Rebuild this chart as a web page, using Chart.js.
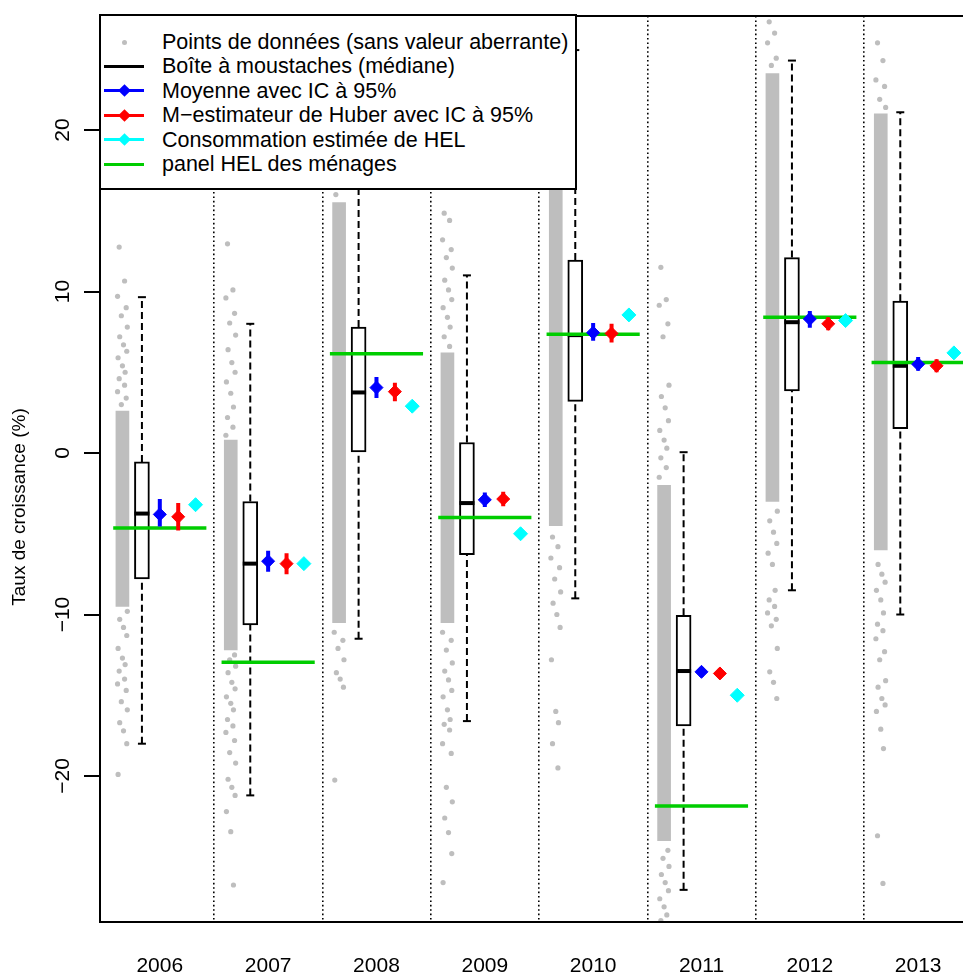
<!DOCTYPE html>
<html lang="fr">
<head>
<meta charset="utf-8">
<title>Taux de croissance</title>
<script src="https://cdn.jsdelivr.net/npm/chart.js@4.4.1/dist/chart.umd.min.js"></script>
<style>
  html, body { margin: 0; padding: 0; background: #fff; overflow: hidden; }
  #wrap { position: relative; width: 963px; height: 975px; }
  #legend {
    position: absolute; left: 99px; top: 14px; width: 478px; height: 176px;
    box-sizing: border-box; border: 2px solid #000; background: #fff;
    padding-top: 14px; font: 21.5px "Liberation Sans", Arial, sans-serif; color: #000;
  }
  .row { position: relative; height: 24.4px; line-height: 24.4px; padding-left: 61px; white-space: nowrap; }
  .sym { position: absolute; left: 3px; top: 0; width: 40px; height: 100%; }
  .ln { position: absolute; left: 0; right: 0; top: 50%; height: 3px; margin-top: -1.5px; }
  .dm { position: absolute; left: 50%; top: 50%; width: 9px; height: 9px; margin: -4.5px 0 0 -4.5px; transform: rotate(45deg); }
  .dot { position: absolute; left: 50%; top: 50%; width: 5px; height: 5px; margin: -2.5px 0 0 -2.5px; border-radius: 50%; background: #bebebe; }
</style>
</head>
<body>
<div id="wrap">
  <canvas id="chart" width="963" height="975"></canvas>
  <div id="legend">
    <div class="row"><span class="sym"><i class="dot"></i></span>Points de données (sans valeur aberrante)</div>
    <div class="row"><span class="sym"><i class="ln" style="background:#000"></i></span>Boîte à moustaches (médiane)</div>
    <div class="row"><span class="sym"><i class="ln" style="background:#0000ff"></i><i class="dm" style="background:#0000ff"></i></span>Moyenne avec IC à 95%</div>
    <div class="row"><span class="sym"><i class="ln" style="background:#ff0000"></i><i class="dm" style="background:#ff0000"></i></span>M−estimateur de Huber avec IC à 95%</div>
    <div class="row"><span class="sym"><i class="ln" style="background:#00ffff"></i><i class="dm" style="background:#00ffff"></i></span>Consommation estimée de HEL</div>
    <div class="row"><span class="sym"><i class="ln" style="background:#00cd00"></i></span>panel HEL des ménages</div>
  </div>
</div>
<script>
// values (growth rate, %)
const years = ["2006", "2007", "2008", "2009", "2010", "2011", "2012", "2013"];
const yTicks = [-20, -10, 0, 10, 20];

const boxLow = [-7.8, -10.65, 0.0, -6.3, 3.2, -16.9, 3.85, 1.5];
const boxHigh = [-0.55, -3.0, 7.8, 0.65, 11.95, -10.05, 12.1, 9.4];
const medians = [-3.75, -6.85, 3.75, -3.1, 7.3, -13.5, 8.1, 5.4];
const whiskerLow = [-18.0, -21.2, -11.5, -16.6, -9.0, -27.05, -8.5, -10.0];
const whiskerHigh = [9.65, 8.0, 25.5, 11.0, 24.95, 0.05, 24.3, 21.1];

const meanValues = [-3.8, -6.7, 4.05, -2.9, 7.45, -13.55, 8.3, 5.5];
const meanLow = [-4.55, -7.35, 3.4, -3.35, 6.95, -13.85, 7.75, 5.1];
const meanHigh = [-2.85, -6.05, 4.7, -2.45, 8.05, -13.25, 8.8, 5.95];

const huberValues = [-3.95, -6.85, 3.8, -2.85, 7.4, -13.65, 8.0, 5.4];
const huberLow = [-4.8, -7.5, 3.2, -3.3, 6.85, -13.95, 7.6, 5.0];
const huberHigh = [-3.1, -6.2, 4.35, -2.4, 8.0, -13.35, 8.4, 5.8];

const helEstimate = [-3.2, -6.85, 2.9, -5.0, 8.55, -15.0, 8.2, 6.2];
const helPanel = [-4.65, -12.95, 6.15, -4.0, 7.35, -21.85, 8.4, 5.6];

// dense part of each point cloud, and the sparser points outside it
const cloudLow = [-9.5, -12.2, -10.5, -10.5, -4.5, -24.0, -3.0, -6.0];
const cloudHigh = [2.6, 0.8, 15.5, 6.2, 27.5, -2.0, 23.5, 21.0];
const tails2006 = [12.75, 10.65, 9.7, 9.0, 8.5, 7.8, 7.2, 6.7, 6.3, 5.9, 5.4, 5.0, 4.6, 4.2, 3.8, 3.4, 3.0,
  -9.8, -10.3, -10.8, -11.3, -12.1, -12.7, -13.1, -13.5, -14.0, -14.3, -14.7, -15.4, -15.9, -16.7, -17.2, -18.0, -19.9];
const tails2007 = [12.95, 10.1, 9.6, 8.65, 8.05, 7.3, 6.4, 5.6, 5.0, 4.4, 3.7, 2.85, 2.2, 1.6, 1.1,
  -12.5, -12.8, -13.2, -13.6, -14.2, -14.6, -15.1, -15.5, -15.9, -16.5, -16.9, -17.3, -17.8, -18.55, -19.2,
  -20.2, -20.7, -21.2, -22.2, -23.45, -26.75];
const tails2008 = [16.0, 16.6, -11.1, -11.6, -12.1, -12.8, -13.6, -14.0, -14.5, -20.25];
const tails2009 = [14.85, 14.4, 13.2, 12.6, 12.1, 11.45, 10.7, 10.1, 9.5, 9.0, 8.4, 7.8, 7.2, 6.6,
  -11.1, -11.6, -12.2, -13.0, -13.5, -14.05, -14.7, -15.1, -15.9, -16.5, -16.8, -17.15, -18.0, -18.6,
  -20.7, -21.6, -22.6, -23.5, -24.8, -26.6];
const tails2010 = [-5.2, -5.8, -6.5, -7.1, -7.8, -8.6, -9.3, -10.0, -10.8, -12.8, -16.0, -16.7, -18.0, -19.5];
const tails2011 = [11.5, 9.5, 9.15, 8.0, 7.2, 4.2, 3.5, 2.8, 2.0, 1.4, 0.8, 0.3, -0.3, -0.9, -1.5,
  -24.6, -25.1, -25.6, -26.1, -26.6, -27.1, -27.6, -28.1, -28.6, -28.95];
const tails2012 = [26.7, 26.0, 25.4, 24.45, 24.0, -3.6, -4.2, -4.9, -5.6, -6.2, -6.9, -8.5, -9.1,
  -9.5, -9.9, -10.3, -10.7, -12.1, -13.55, -14.2, -15.2];
const tails2013 = [25.4, 24.3, 23.1, 22.7, 21.9, 21.4, -6.9, -7.5, -8.0, -8.5, -9.1, -9.9, -10.6, -11.0,
  -11.5, -12.3, -12.8, -14.1, -14.5, -15.2, -15.6, -16.0, -17.1, -18.3, -23.7, -26.65];
const cloudTails = [tails2006, tails2007, tails2008, tails2009, tails2010, tails2011, tails2012, tails2013];

// horizontal layout inside one year slot (x units, one unit per year)
const X_MIN = 0.448, X_MAX = 8.414;
const X_CLOUD = -0.345, X_BOX = -0.165, X_HUBER = 0.17, X_HEL = 0.33, PANEL_HALF = 0.43;
const JITTER = [-0.03, 0.02, -0.045, 0.035, -0.01, 0.045, -0.025, 0.01, 0.04, -0.04, 0.0, 0.025];
const FONT = '"Liberation Sans", Arial, sans-serif';

const pos = (i, off) => i + 1 + off;
const points = (vals, off) => vals.map((v, i) => ({ x: pos(i, off), y: v }));
const segments = (lo, hi, off) => years.flatMap((_, i) => [
  { x: pos(i, off), y: lo[i] }, { x: pos(i, off), y: hi[i] }, { x: pos(i, off), y: null }
]);

const cloudBars = years.map((_, i) => ({ x: pos(i, X_CLOUD), y: [cloudLow[i], cloudHigh[i]] }));
const cloudDots = cloudTails.flatMap((list, i) =>
  list.map((v, k) => ({ x: pos(i, X_CLOUD + JITTER[k % JITTER.length]), y: v })));
const boxBars = years.map((_, i) => ({ x: pos(i, X_BOX), y: [boxLow[i], boxHigh[i]] }));
const whiskers = segments(boxHigh, whiskerHigh, X_BOX).concat(segments(whiskerLow, boxLow, X_BOX));
const panelLines = years.flatMap((_, i) => [
  { x: pos(i, -PANEL_HALF), y: helPanel[i] }, { x: pos(i, PANEL_HALF), y: helPanel[i] }, { x: pos(i, 0), y: null }
]);

// year ticks at integers, dotted separators at the half positions, blank ticks at both ends
const xTicks = [X_MIN].concat(years.flatMap((_, i) => i < years.length - 1 ? [i + 1, i + 1.5] : [i + 1]), [X_MAX]);
const isSeparator = v => Math.abs((v % 1) - 0.5) < 1e-9;

const segLine = (data, color, width, order, dash) => ({
  type: "line", data, borderColor: color, borderWidth: width, borderDash: dash || [],
  pointRadius: 0, spanGaps: false, fill: false, order
});
const marks = (data, style, color, radius, width, order) => ({
  type: "scatter", data, pointStyle: style, pointRadius: radius,
  backgroundColor: color, borderColor: color, pointBorderWidth: width, order
});

const rExtras = {
  id: "rExtras",
  afterDraw(chart) {
    const { ctx, chartArea: a, scales: { y } } = chart;
    ctx.save();
    ctx.strokeStyle = "#000";
    ctx.lineWidth = 2;
    ctx.beginPath();
    ctx.moveTo(a.left - 1, a.top); ctx.lineTo(a.right, a.top);
    ctx.moveTo(a.left - 1, a.bottom); ctx.lineTo(a.right, a.bottom);
    ctx.stroke();
    ctx.fillStyle = "#000";
    ctx.textAlign = "center";
    ctx.textBaseline = "middle";
    ctx.font = "21px " + FONT;
    yTicks.forEach(v => {
      ctx.save();
      ctx.translate(63, y.getPixelForValue(v));
      ctx.rotate(-Math.PI / 2);
      ctx.fillText(String(v).replace("-", "\u2212"), 0, 0);
      ctx.restore();
    });
    ctx.font = "19px " + FONT;
    ctx.translate(20, 507);
    ctx.rotate(-Math.PI / 2);
    ctx.fillText("Taux de croissance (%)", 0, 0);
    ctx.restore();
  }
};

new Chart(document.getElementById("chart"), {
  type: "scatter",
  data: {
    datasets: [
      marks(points(meanValues, 0), "rectRot", "#0000ff", 6.5, 1, 1),
      marks(points(huberValues, X_HUBER), "rectRot", "#ff0000", 6.5, 1, 1),
      marks(points(helEstimate, X_HEL), "rectRot", "#00ffff", 7, 1, 1),
      segLine(segments(meanLow, meanHigh, 0), "#0000ff", 4, 2),
      segLine(segments(huberLow, huberHigh, X_HUBER), "#ff0000", 4, 2),
      segLine(panelLines, "#00cd00", 3.5, 3),
      marks(points(medians, X_BOX), "line", "#000", 7.5, 4, 4),
      marks(points(whiskerHigh, X_BOX).concat(points(whiskerLow, X_BOX)), "line", "#000", 4, 2, 5),
      {
        type: "bar", data: boxBars, backgroundColor: "#fff", borderColor: "#000", borderWidth: 2,
        borderSkipped: false, grouped: false, barThickness: 15, barPercentage: 1, order: 6
      },
      segLine(whiskers, "#000", 2, 7, [7, 4]),
      marks(cloudDots, "circle", "#bebebe", 2.6, 0, 8),
      {
        type: "bar", data: cloudBars, backgroundColor: "#bebebe", borderWidth: 0,
        grouped: false, barThickness: 13, barPercentage: 1, order: 9
      }
    ]
  },
  options: {
    responsive: false,
    animation: false,
    events: [],
    layout: { autoPadding: false, padding: { top: 16, left: 0, right: 0, bottom: 0 } },
    plugins: { legend: { display: false }, tooltip: { enabled: false } },
    scales: {
      x: {
        type: "linear", min: X_MIN, max: X_MAX, offset: false,
        afterBuildTicks: s => { s.ticks = xTicks.map(v => ({ value: v })); },
        afterFit: s => { s.height = 53; s.paddingLeft = 0; s.paddingRight = 0; },
        grid: {
          offset: false, drawTicks: false, lineWidth: 1.6,
          color: c => (c.tick && isSeparator(c.tick.value)) ? "#000" : "rgba(0,0,0,0)"
        },
        border: { display: false, dash: [1.6, 2.8] },
        ticks: {
          autoSkip: false, maxRotation: 0, padding: 32, color: "#000",
          font: { family: FONT, size: 21 },
          callback: v => Number.isInteger(v) ? years[v - 1] : ""
        }
      },
      y: {
        type: "linear", min: -29.04, max: 27.06,
        afterBuildTicks: s => { s.ticks = yTicks.map(v => ({ value: v })); },
        afterFit: s => { s.width = 100; },
        grid: { drawOnChartArea: false, drawTicks: true, tickLength: 16, color: "#000", lineWidth: 2 },
        border: { display: true, color: "#000", width: 2 },
        ticks: { display: false }
      }
    }
  },
  plugins: [rExtras]
});
</script>
</body>
</html>
